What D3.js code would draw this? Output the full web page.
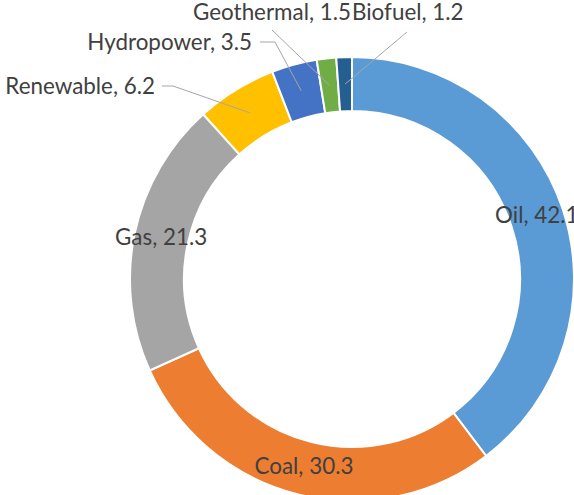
<!DOCTYPE html>
<html><head><meta charset="utf-8">
<script src="https://cdn.jsdelivr.net/npm/d3@7"></script>
<style>body{margin:0;background:#fff}svg{display:block}</style>
</head><body>
<svg id="c" width="574" height="495"></svg>
<script>
// ---- data ----
const categories = ["Oil","Coal","Gas","Renewable","Hydropower","Geothermal","Biofuel"];
const values = [42.1, 30.3, 21.3, 6.2, 3.5, 1.5, 1.2];
const colors = ["#5B9BD5","#ED7D31","#A5A5A5","#FFC000","#4472C4","#70AD47","#255E91"];

// ---- layout ----
const W = 574, H = 495;
const cx = 352, cy = 279;
const outerR = 222, innerR = 168;
const fontFamily = "Lato, 'Liberation Sans', sans-serif";
const fontSize = 22.4;
const textColor = "#404040";
const leaderColor = "#A6A6A6";

// outside label placement (label anchor + leader start path); end point comes from the arc centroid
const outsideLabels = {
  "Renewable":  {x: 155, y: 94, anchor: "end",   leader: [[162, 86], [173, 86]]},
  "Hydropower": {x: 252, y: 50, anchor: "end",   leader: [[260, 42], [275, 42]]},
  "Geothermal": {x: 351, y: 20, anchor: "end",   leader: [[272, 30]]},
  "Biofuel":    {x: 352, y: 20, anchor: "start", leader: [[407, 32]]}
};

const svg = d3.select("#c");
const data = categories.map((c, i) => ({name: c, value: values[i], color: colors[i]}));

const pie = d3.pie().sort(null).value(d => d.value).startAngle(0).endAngle(2 * Math.PI);
const arcs = pie(data);
const arc = d3.arc().innerRadius(innerR).outerRadius(outerR);
const midArc = d3.arc().innerRadius((innerR + outerR) / 2).outerRadius((innerR + outerR) / 2);

const g = svg.append("g").attr("transform", `translate(${cx},${cy})`);

g.selectAll("path.slice").data(arcs).enter().append("path")
  .attr("class", "slice")
  .attr("d", arc)
  .attr("fill", d => d.data.color)
  .attr("stroke", "#fff")
  .attr("stroke-width", 2)
  .attr("stroke-linejoin", "miter");

const fmt = v => v.toFixed(1);

// leader lines for outside labels
arcs.forEach(a => {
  const lab = outsideLabels[a.data.name];
  const c = midArc.centroid(a);
  if (lab) {
    const pts = lab.leader.concat([[c[0] + cx, c[1] + cy]]);
    svg.append("path")
      .attr("d", d3.line()(pts))
      .attr("fill", "none")
      .attr("stroke", leaderColor)
      .attr("stroke-width", 1);
  }
});

// labels
arcs.forEach(a => {
  const lab = outsideLabels[a.data.name];
  const c = midArc.centroid(a);
  const t = svg.append("text")
    .attr("font-family", fontFamily)
    .attr("font-size", fontSize)
    .attr("fill", textColor)
    .text(`${a.data.name}, ${fmt(a.data.value)}`);
  if (lab) {
    t.attr("x", lab.x).attr("y", lab.y).attr("text-anchor", lab.anchor);
  } else {
    t.attr("x", c[0] + cx).attr("y", c[1] + cy + 6).attr("text-anchor", "middle");
  }
});
</script>
</body></html>
